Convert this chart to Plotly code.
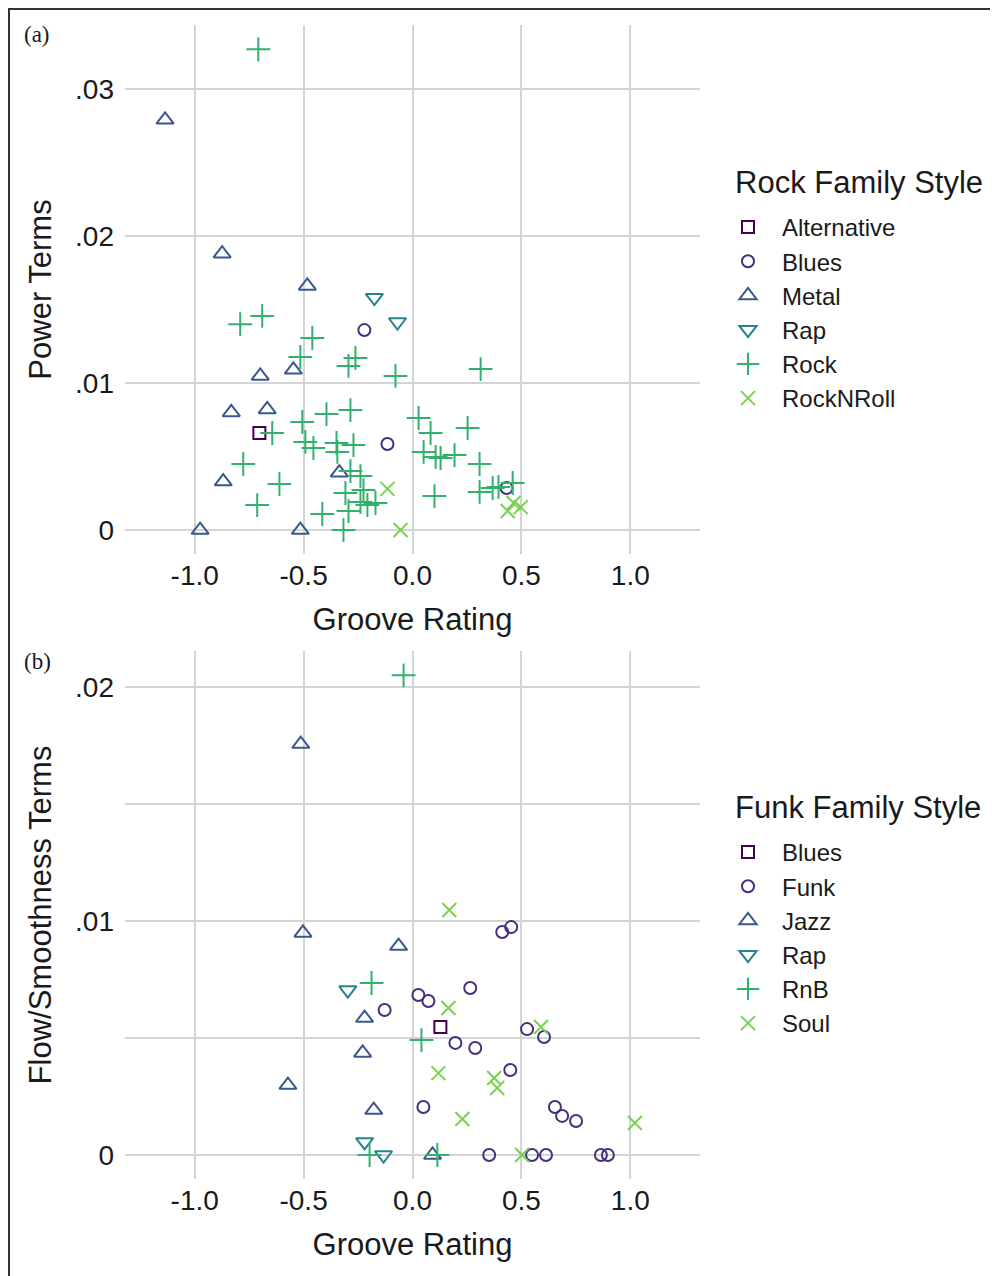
import plotly.graph_objects as go

# ---------------- Panel (a): Rock family ----------------
rock_styles = ["Alternative", "Blues", "Metal", "Rap", "Rock", "RockNRoll"]

a_alternative_x = [-0.703]
a_alternative_y = [0.0066]

a_blues_x = [-0.221, -0.115, 0.432]
a_blues_y = [0.0136, 0.00585, 0.00286]

a_metal_x = [-1.136, -0.874, -0.483, -0.699, -0.547, -0.832, -0.667, -0.869, -0.336, -0.975, -0.515]
a_metal_y = [0.0279, 0.0188, 0.0166, 0.01048, 0.0109, 0.0080, 0.0082, 0.0033, 0.0039, 0.0, 0.0]

a_rap_x = [-0.175, -0.069]
a_rap_y = [0.0158, 0.01415]

a_rock_x = [-0.708, -0.791, -0.690, -0.460, -0.515, -0.294, -0.262, -0.078, 0.313,
            -0.644, -0.777, -0.611, -0.713, -0.506, -0.395, -0.285, -0.492, -0.455,
            -0.349, -0.345, -0.271, -0.285, -0.239, -0.308, -0.225, -0.239, -0.207,
            -0.170, -0.294, -0.414, -0.317, 0.028, 0.083, 0.051, 0.106, 0.129, 0.193,
            0.253, 0.308, 0.101, 0.308, 0.368, 0.395, 0.460]
a_rock_y = [0.0327, 0.0140, 0.01456, 0.01306, 0.01177, 0.01116, 0.0117, 0.01048, 0.01095,
            0.0066, 0.00449, 0.00313, 0.0017, 0.00735, 0.00789, 0.00816, 0.00599, 0.00558,
            0.00592, 0.00531, 0.00578, 0.00401, 0.00367, 0.00252, 0.00272, 0.0019, 0.0017,
            0.00184, 0.00129, 0.00109, 0.0, 0.00762, 0.0066, 0.00531, 0.00497, 0.0049, 0.0051,
            0.00694, 0.00449, 0.00231, 0.00259, 0.00286, 0.00293, 0.0032]

a_rocknroll_x = [-0.115, -0.055, 0.464, 0.497, 0.437]
a_rocknroll_y = [0.0028, 0.0, 0.00184, 0.00156, 0.00129]

# ---------------- Panel (b): Funk family ----------------
funk_styles = ["Blues", "Funk", "Jazz", "Rap", "RnB", "Soul"]

b_blues_x = [0.128]
b_blues_y = [0.00547]

b_funk_x = [0.412, 0.453, -0.128, 0.027, 0.073, 0.265, 0.197, 0.288, 0.526, 0.604,
            0.449, 0.050, 0.352, 0.549, 0.613, 0.865, 0.897, 0.654, 0.687, 0.751]
b_funk_y = [0.00953, 0.00974, 0.0062, 0.00684, 0.00658, 0.00714, 0.00479, 0.00457, 0.00538, 0.00504,
            0.00363, 0.00205, 0.0, 0.0, 0.0, 0.0, 0.0, 0.00205, 0.00167, 0.00145]

b_jazz_x = [-0.513, -0.503, -0.064, -0.220, -0.229, -0.572, -0.178, 0.092]
b_jazz_y = [0.01756, 0.00949, 0.00893, 0.00585, 0.00436, 0.00299, 0.00192, 0.0]

b_rap_x = [-0.297, -0.220, -0.133]
b_rap_y = [0.00705, 0.00056, 0.0]

b_rnb_x = [-0.041, -0.188, 0.041, -0.197, 0.114]
b_rnb_y = [0.0205, 0.00735, 0.00491, 0.0, 0.0]

b_soul_x = [0.169, 0.165, 0.590, 0.119, 0.375, 0.389, 0.229, 0.503, 1.021]
b_soul_y = [0.01047, 0.00628, 0.00547, 0.0035, 0.00329, 0.00286, 0.00154, 0.0, 0.00137]

# tick labels
x_tickvals = [-1.0, -0.5, 0.0, 0.5, 1.0]
x_ticktext = ["-1.0", "-0.5", "0.0", "0.5", "1.0"]
a_y_tickvals = [0, 0.01, 0.02, 0.03]
a_y_ticktext = ["0", ".01", ".02", ".03"]
b_y_tickvals = [0, 0.005, 0.01, 0.015, 0.02]
b_y_ticktext = ["0", "", ".01", "", ".02"]

colors = ["#440154", "#472F7D", "#38598C", "#25848E", "#30B26C", "#7AD151"]
symbols = ["square-open", "circle-open", "triangle-up-open", "triangle-down-open",
           "cross-thin-open", "x-thin-open"]
sizes = [12, 12, 15, 15, 17, 14]

FONT = "Liberation Sans, Arial, sans-serif"
TXT = "#1a1a1a"

fig = go.Figure()

a_series = [(a_alternative_x, a_alternative_y), (a_blues_x, a_blues_y), (a_metal_x, a_metal_y),
            (a_rap_x, a_rap_y), (a_rock_x, a_rock_y), (a_rocknroll_x, a_rocknroll_y)]
for i, (name, (xs, ys)) in enumerate(zip(rock_styles, a_series)):
    fig.add_trace(go.Scatter(
        x=xs, y=ys, mode="markers", name=name, xaxis="x", yaxis="y",
        legend="legend",
        marker=dict(symbol=symbols[i], size=sizes[i], color=colors[i],
                    line=dict(width=2, color=colors[i])),
        hoverinfo="skip"))

b_series = [(b_blues_x, b_blues_y), (b_funk_x, b_funk_y), (b_jazz_x, b_jazz_y),
            (b_rap_x, b_rap_y), (b_rnb_x, b_rnb_y), (b_soul_x, b_soul_y)]
for i, (name, (xs, ys)) in enumerate(zip(funk_styles, b_series)):
    fig.add_trace(go.Scatter(
        x=xs, y=ys, mode="markers", name=name, xaxis="x2", yaxis="y2",
        legend="legend2",
        marker=dict(symbol=symbols[i], size=sizes[i], color=colors[i],
                    line=dict(width=2, color=colors[i])),
        hoverinfo="skip"))

# page has an 8px body margin; work in page pixels and shift
OFF = 8
W, H = 998 - OFF, 1276 - OFF
L, R = 125 - OFF, 700 - OFF
T, B = 25 - OFF, 1179 - OFF
ph = B - T

def py(page_pix):
    return (B - (page_pix - OFF)) / ph

def px(page_pix):
    return ((page_pix - OFF) - L) / (R - L)

grid = "#d4d4d4"
axis_common = dict(showline=False, zeroline=False, showgrid=True, gridcolor=grid, gridwidth=1.6,
                   ticks="", tickfont=dict(size=28, color=TXT, family=FONT))
title_font = dict(size=31, family=FONT, color=TXT)

fig.update_layout(
    width=W, height=H,
    margin=dict(l=L, r=W - R, t=T, b=H - B),
    paper_bgcolor="white", plot_bgcolor="white",
    font=dict(family=FONT, color=TXT),
    xaxis=dict(domain=[0, 1], anchor="y", range=[-1.32, 1.32], tickvals=x_tickvals,
               ticktext=x_ticktext, ticklabelstandoff=2,
               title=dict(text="Groove Rating", font=title_font, standoff=18),
               **axis_common),
    yaxis=dict(domain=[py(554), 1], anchor="x", range=[-0.00163, 0.03435], tickvals=a_y_tickvals,
               ticktext=a_y_ticktext, ticklabelstandoff=10,
               title=dict(text="Power Terms", font=title_font, standoff=14),
               **axis_common),
    xaxis2=dict(domain=[0, 1], anchor="y2", range=[-1.32, 1.32], tickvals=x_tickvals,
                ticktext=x_ticktext, ticklabelstandoff=2,
                title=dict(text="Groove Rating", font=title_font, standoff=18),
                **axis_common),
    yaxis2=dict(domain=[0, py(651)], anchor="x2", range=[-0.001026, 0.02154], tickvals=b_y_tickvals,
                ticktext=b_y_ticktext, ticklabelstandoff=10,
                title=dict(text="Flow/Smoothness Terms", font=title_font, standoff=14),
                **axis_common),
    legend=dict(x=px(714), y=py(205), xanchor="left", yanchor="top",
                font=dict(size=24, family=FONT, color=TXT), itemwidth=58,
                bgcolor="rgba(0,0,0,0)", itemclick=False, itemdoubleclick=False),
    legend2=dict(x=px(714), y=py(830), xanchor="left", yanchor="top",
                 font=dict(size=24, family=FONT, color=TXT), itemwidth=58,
                 bgcolor="rgba(0,0,0,0)", itemclick=False, itemdoubleclick=False),
    showlegend=True,
)

# legend titles as text
for label, ypix in [("Rock Family Style", 183), ("Funk Family Style", 807)]:
    fig.add_annotation(text=label, x=px(733), y=py(ypix), xref="paper", yref="paper",
                       showarrow=False, xanchor="left", yanchor="middle",
                       font=dict(size=31, family=FONT, color=TXT))

# panel labels
for label, ypix in [("(a)", 34), ("(b)", 661)]:
    fig.add_annotation(text=label, x=px(37), y=py(ypix), xref="paper", yref="paper",
                       showarrow=False, xanchor="center", yanchor="middle",
                       font=dict(size=23, family="Liberation Serif, Times New Roman, serif", color=TXT))

# outer frame (top and left edges)
fig.add_shape(type="line", xref="paper", yref="paper", x0=px(8), x1=px(998), y0=py(9), y1=py(9),
              line=dict(color="#333", width=2))
fig.add_shape(type="line", xref="paper", yref="paper", x0=px(9), x1=px(9), y0=py(9), y1=py(1276),
              line=dict(color="#333", width=2))

fig.write_html("out.html")
